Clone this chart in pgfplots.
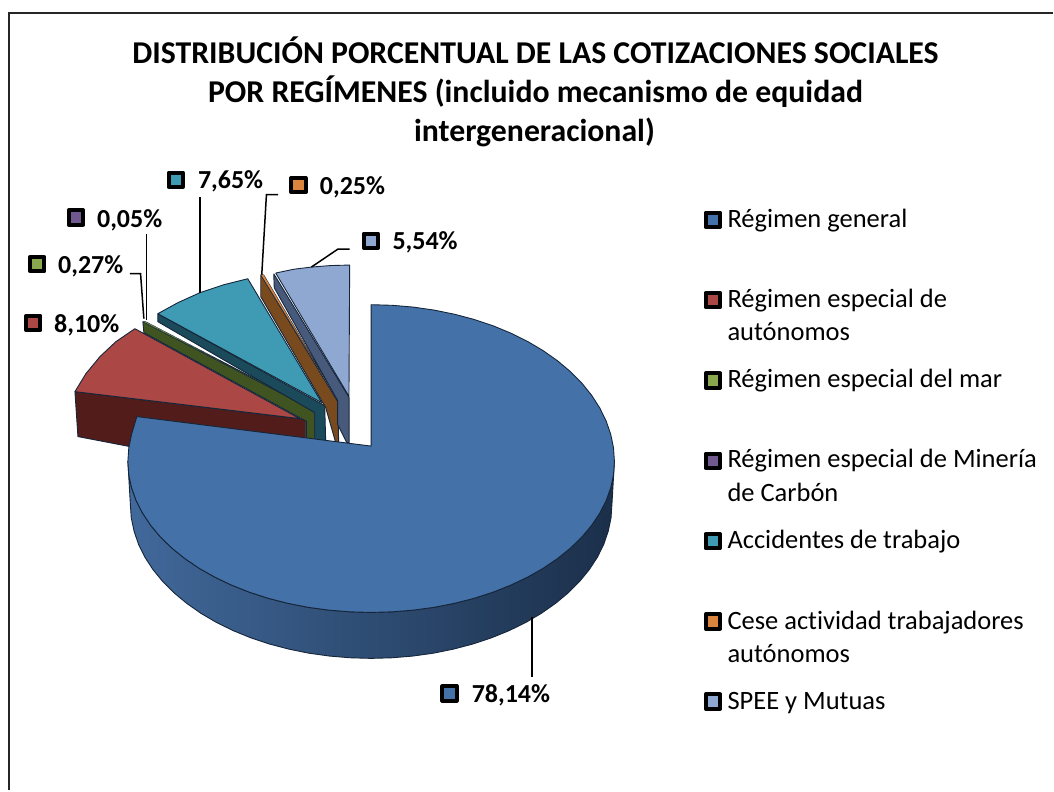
\documentclass[border=0pt]{standalone}
\usepackage{pgfplots}
\pgfplotsset{compat=1.18}
\usepackage{fontspec}
\setmainfont[Ligatures=NoCommon]{Carlito}
\definecolor{cBlue}{HTML}{4472A8}
\definecolor{cRed}{HTML}{AB4744}
\definecolor{cRedD}{HTML}{521C1A}
\definecolor{cGreen}{HTML}{8AA84E}
\definecolor{cGreenD}{HTML}{3F5420}
\definecolor{cPurple}{HTML}{71598F}
\definecolor{cTeal}{HTML}{3F9AB3}
\definecolor{cTealD}{HTML}{1B4A5A}
\definecolor{cOrange}{HTML}{DB843D}
\definecolor{cBrown}{HTML}{7A4A1F}
\definecolor{cLight}{HTML}{8FA8D2}
\definecolor{cLightD}{HTML}{475A7C}
\definecolor{cEdge}{HTML}{16263A}
\definecolor{wallL}{HTML}{41699B}
\definecolor{wallM}{HTML}{254670}
\definecolor{wallR}{HTML}{1B2F4A}
\tikzset{
  lab/.style={font=\fontsize{26}{26}\selectfont\bfseries,anchor=base west,inner sep=0pt,text=black},
  leg/.style={font=\fontsize{26.5}{26}\selectfont,anchor=base west,inner sep=0pt,text=black},
  ttl/.style={font=\fontsize{31.8}{32}\selectfont\bfseries,anchor=base,inner sep=0pt,text=black},
}
\pgfplotsset{
  sw/.style={only marks,mark=square*,mark size=7.2pt,mark options={draw=black,line width=4pt,fill=#1,line join=round}},
  face/.style={draw=cEdge,line width=0.9pt,fill=#1,line join=round},
  lead/.style={draw=black,line width=1.5pt,mark=none},
}
\begin{document}
\begin{tikzpicture}
\begin{axis}[
  scale only axis,width=1054pt,height=791pt,
  xmin=0,xmax=1054,ymin=0,ymax=791,y dir=reverse,
  hide axis,clip=false,
]
% page extent
\addplot[draw=none,mark=none,forget plot] coordinates {(0,0)(1054,791)};
% frame
\addplot[draw=black!85,line width=2pt,mark=none] coordinates {(1054,13.5)(9,13.5)(9,791)};

% dark red slice: wall, top
\addplot[face=cRedD] coordinates {(75,392)(78,437)(130,447)(306,441)(306,420)(75,392)};
\addplot[face=cRed] coordinates {(75,392)(86,374)(100,357)(116,342)(135,329)(300,419)(75,392)};
% green slice + purple sliver
\addplot[face=cGreenD] coordinates {(143,322)(144,333)(306.7,421.7)(306.7,441)(315,441)(315,411)(143,322)};
\addplot[face=cGreen,line width=0.4pt] coordinates {(143,322)(146,322)(315,410)(143,322)};
% teal
\addplot[face=cTealD] coordinates {(158,314)(158,322)(315,413)(315,441)(326,441)(325,406)(158,314)};
\addplot[face=cTeal] coordinates {(158,314)(178,303)(200,293)(224,285)(248,279)(322,403)(158,314)};
% orange/brown
\addplot[face=cBrown] coordinates {(261,275)(261,297)(326,408)(336,443)(339,443)(338,402)(261,275)};
\addplot[face=cOrange,line width=0.4pt] coordinates {(261,275)(264,275)(338,400)(261,275)};
% light blue
\addplot[face=cLightD] coordinates {(274,274)(274.5,288)(338,401)(338,425)(347,443)(349.5,443)(349.5,398)(274,274)};
\addplot[face=cLight] coordinates {(276,273.3)(294,269.5)(312,267.3)(331,265.8)(350,265.3)(349.3,396.7)(276,273.3)};

% main slice wall
\addplot[draw=cEdge,line width=0.9pt,left color=wallL,middle color=wallM,right color=wallR] coordinates {
(615,462)(614.1,475.2)(611.3,488.2)(606.7,501.1)(600.3,513.6)(592.2,525.8)(582.4,537.5)(571,548.6)(558,559.1)(543.7,568.8)(528,577.7)(511.2,585.7)(493.3,592.8)(474.4,598.9)(454.8,603.9)(434.5,607.9)(413.8,610.7)(392.7,612.4)(371.5,613)(350.3,612.4)(329.2,610.7)(308.5,607.9)(288.2,603.9)(268.6,598.9)(249.7,592.8)(231.8,585.7)(215,577.7)(199.3,568.8)(185,559.1)(172,548.6)(160.6,537.5)(150.8,525.8)(142.7,513.6)(136.3,501.1)(131.7,488.2)(128.9,475.2)(128,462)
(130.5,505)(131.4,518.4)(134.2,531.7)(138.7,544.9)(145,557.7)(153.1,570.1)(162.8,582)(174.1,593.3)(187,604)(201.1,613.9)(216.6,623)(233.3,631.2)(251,638.4)(269.6,644.6)(289,649.7)(309.1,653.8)(330,656.7)(350.5,658.4)(371.5,659)(392.5,658.4)(413,656.7)(433.9,653.8)(454,649.7)(473.4,644.6)(492,638.4)(509.7,631.2)(526.4,623)(541.9,613.9)(556,604)(568.9,593.3)(580.2,582)(589.9,570.1)(598,557.7)(604.3,544.9)(608.8,531.7)(611.6,518.4)(612.5,505)(615,462)};
% main slice top
\addplot[face=cBlue] coordinates {
(371.5,446.5)(371.5,305)(392.7,305.6)(413.8,307.4)(434.5,310.4)(454.8,314.5)(474.4,319.7)(493.3,326)(511.2,333.4)(528,341.7)(543.7,351)(558,361.1)(571,372)(582.4,383.5)(592.2,395.7)(600.3,408.3)(606.7,421.4)(611.3,434.7)(614.1,448.3)(615,462)
(614.1,475.2)(611.3,488.2)(606.7,501.1)(600.3,513.6)(592.2,525.8)(582.4,537.5)(571,548.6)(558,559.1)(543.7,568.8)(528,577.7)(511.2,585.7)(493.3,592.8)(474.4,598.9)(454.8,603.9)(434.5,607.9)(413.8,610.7)(392.7,612.4)(371.5,613)(350.3,612.4)(329.2,610.7)(308.5,607.9)(288.2,603.9)(268.6,598.9)(249.7,592.8)(231.8,585.7)(215,577.7)(199.3,568.8)(185,559.1)(172,548.6)(160.6,537.5)(150.8,525.8)(142.7,513.6)(136.3,501.1)(131.7,488.2)(128.9,475.2)(128,462)(128.9,448.3)(131.7,434.7)(137,417)(371.5,446.5)};

% leader lines
\addplot[lead] coordinates {(532.7,618)(532.7,678)};
\addplot[lead] coordinates {(130,274)(140.7,274)(144,319)};
\addplot[lead] coordinates {(146.7,320)(146.7,234)};
\addplot[lead] coordinates {(200,293.3)(200,196.7)};
\addplot[lead] coordinates {(262,275)(266.7,194.7)(278.3,194.7)};
\addplot[lead] coordinates {(311.7,267.3)(338.3,249.3)(350,249.3)};

% data labels
\addplot[sw=cBlue] coordinates {(450,694)};
\addplot[sw=cRed] coordinates {(33.3,323.3)};
\addplot[sw=cGreen] coordinates {(37.3,264.3)};
\addplot[sw=cPurple] coordinates {(76,217.7)};
\addplot[sw=cTeal] coordinates {(176,180)};
\addplot[sw=cOrange] coordinates {(298.7,185.3)};
\addplot[sw=cLight] coordinates {(371.3,241)};
\node[lab] at (axis cs:472,702.7) {78,14\%};
\node[lab] at (axis cs:54,332.7) {8,10\%};
\node[lab] at (axis cs:58,274) {0,27\%};
\node[lab] at (axis cs:97,227.7) {0,05\%};
\node[lab] at (axis cs:198,189) {7,65\%};
\node[lab] at (axis cs:320,195) {0,25\%};
\node[lab] at (axis cs:392.7,250) {5,54\%};

% legend
\addplot[sw=cBlue] coordinates {(713.5,220)};
\addplot[sw=cRed] coordinates {(713.5,300.3)};
\addplot[sw=cGreen] coordinates {(713.5,381)};
\addplot[sw=cPurple] coordinates {(713.5,461.3)};
\addplot[sw=cTeal] coordinates {(713.5,541.7)};
\addplot[sw=cOrange] coordinates {(713.5,622)};
\addplot[sw=cLight] coordinates {(713.5,702.3)};
\node[leg] at (axis cs:728,228) {Régimen general};
\node[leg] at (axis cs:728,307.7) {Régimen especial de};
\node[leg] at (axis cs:728,340.7) {autónomos};
\node[leg] at (axis cs:728,388.3) {Régimen especial del mar};
\node[leg] at (axis cs:728,468.3) {Régimen especial de Minería};
\node[leg] at (axis cs:728,501.7) {de Carbón};
\node[leg] at (axis cs:728,549.3) {Accidentes de trabajo};
\node[leg] at (axis cs:728,630) {Cese actividad trabajadores};
\node[leg] at (axis cs:728,662.7) {autónomos};
\node[leg] at (axis cs:728,710) {SPEE y Mutuas};

% title
\node[ttl] at (axis cs:536,64) {DISTRIBUCIÓN PORCENTUAL DE LAS COTIZACIONES SOCIALES};
\node[ttl] at (axis cs:536,103) {POR REGÍMENES (incluido mecanismo de equidad};
\node[ttl] at (axis cs:535,142) {intergeneracional)};
\end{axis}
\end{tikzpicture}
\end{document}
